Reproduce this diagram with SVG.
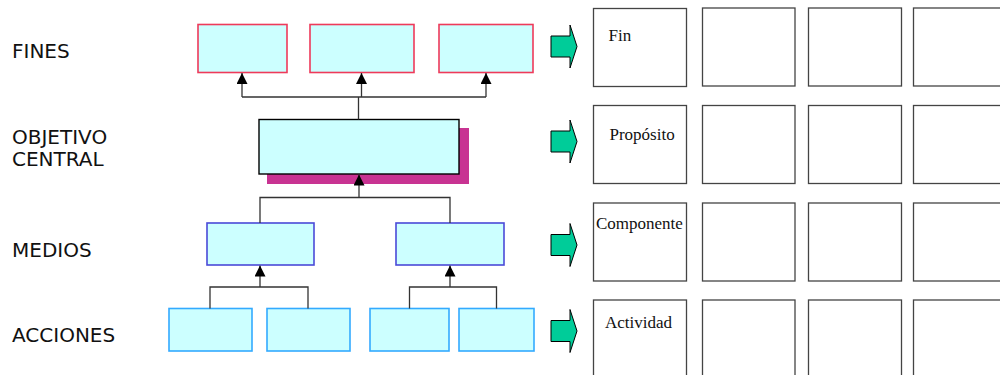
<svg xmlns="http://www.w3.org/2000/svg" width="1000" height="375" viewBox="0 0 1000 375">
  <style>
    .lvl { font-family: "DejaVu Sans", "Liberation Sans", sans-serif; font-size: 20px; fill: #111; }
    .cell-label { font-family: "Liberation Serif", "Times New Roman", serif; font-size: 17px; fill: #111; }
    .fin { fill: #ccffff; stroke: #ee3a5a; stroke-width: 1.6; }
    .obj { fill: #ccffff; stroke: #000; stroke-width: 1.4; }
    .shadow { fill: #c83392; }
    .medio { fill: #ccffff; stroke: #4a4ad8; stroke-width: 1.6; }
    .accion { fill: #ccffff; stroke: #33aaff; stroke-width: 1.6; }
    .conn { fill: none; stroke: #333; stroke-width: 1.3; }
    .cell { fill: #fff; stroke: #444; stroke-width: 1.3; }
    .go { fill: #00cc99; stroke: #000; stroke-width: 1; }
  </style>
  <defs>
    <marker id="tip" viewBox="0 0 10 10" refX="10" refY="5" markerWidth="11" markerHeight="11" markerUnits="userSpaceOnUse" orient="auto">
      <path d="M0,0 L10,5 L0,10 Z" fill="#000"/>
    </marker>
    <path id="goArrow" d="M0,-10.5 H19 V-21.5 L26,0 L19,21.5 V10.5 H0 Z"/>
  </defs>

  <!-- level names -->
  <g id="labels">
    <text class="lvl" x="12" y="58">FINES</text>
    <text class="lvl" x="12" y="143.5">OBJETIVO</text>
    <text class="lvl" x="12" y="166">CENTRAL</text>
    <text class="lvl" x="12" y="257">MEDIOS</text>
    <text class="lvl" x="12" y="342">ACCIONES</text>
  </g>

  <!-- ends -->
  <g id="fin-1"><rect class="fin" x="198" y="24.5" width="89" height="48"/></g>
  <g id="fin-2"><rect class="fin" x="310" y="24.5" width="104" height="48"/></g>
  <g id="fin-3"><rect class="fin" x="439" y="24.5" width="94" height="48"/></g>

  <!-- central objective with shadow -->
  <g id="objetivo">
    <rect class="shadow" x="267" y="128" width="202" height="56"/>
    <rect class="obj" x="259" y="119.5" width="200" height="54.5"/>
  </g>

  <!-- means -->
  <g id="medio-1"><rect class="medio" x="207" y="223" width="107" height="42"/></g>
  <g id="medio-2"><rect class="medio" x="396" y="223" width="108" height="42"/></g>

  <!-- actions -->
  <g id="accion-1"><rect class="accion" x="169" y="308.5" width="83" height="42.5"/></g>
  <g id="accion-2"><rect class="accion" x="267" y="308.5" width="83" height="42.5"/></g>
  <g id="accion-3"><rect class="accion" x="370" y="308.5" width="79" height="42.5"/></g>
  <g id="accion-4"><rect class="accion" x="459" y="308.5" width="75" height="42.5"/></g>

  <!-- tree connectors -->
  <g id="connectors">
    <path class="conn" d="M358.5,119.5 V97 M242,97 H486"/>
    <path class="conn" d="M242,97 V73" marker-end="url(#tip)"/>
    <path class="conn" d="M361.5,97 V73" marker-end="url(#tip)"/>
    <path class="conn" d="M486,97 V73" marker-end="url(#tip)"/>

    <path class="conn" d="M260,223 V197.5 H450 V223"/>
    <path class="conn" d="M359,197.5 V174.5" marker-end="url(#tip)"/>

    <path class="conn" d="M210,308.5 V287 H308 V308.5"/>
    <path class="conn" d="M260,287 V265.5" marker-end="url(#tip)"/>

    <path class="conn" d="M409.5,308.5 V287 H496.5 V308.5"/>
    <path class="conn" d="M450,287 V265.5" marker-end="url(#tip)"/>
  </g>

  <!-- arrows toward the matrix -->
  <g id="flechas">
    <use href="#goArrow" class="go" x="551" y="46.5"/>
    <use href="#goArrow" class="go" x="551" y="141.5"/>
    <use href="#goArrow" class="go" x="551" y="245"/>
    <use href="#goArrow" class="go" x="551" y="331"/>
  </g>

  <!-- logical framework matrix -->
  <g id="fila-fin">
    <rect class="cell" x="593.5" y="8.5" width="93" height="78"/>
    <rect class="cell" x="702.5" y="8" width="92.5" height="78"/>
    <rect class="cell" x="808.5" y="8" width="93" height="78"/>
    <rect class="cell" x="913.5" y="8" width="100" height="78"/>
    <text class="cell-label" x="608.5" y="40.5">Fin</text>
  </g>
  <g id="fila-proposito">
    <rect class="cell" x="593.5" y="105.5" width="93" height="78"/>
    <rect class="cell" x="702.5" y="105.5" width="92.5" height="78"/>
    <rect class="cell" x="808.5" y="105.5" width="93" height="78"/>
    <rect class="cell" x="913.5" y="105.5" width="100" height="78"/>
    <text class="cell-label" x="609.5" y="139.5">Propósito</text>
  </g>
  <g id="fila-componente">
    <rect class="cell" x="593.5" y="203" width="93" height="78"/>
    <rect class="cell" x="702.5" y="203" width="92.5" height="78"/>
    <rect class="cell" x="808.5" y="203" width="93" height="78"/>
    <rect class="cell" x="913.5" y="203" width="100" height="78"/>
    <text class="cell-label" x="596" y="228.5">Componente</text>
  </g>
  <g id="fila-actividad">
    <rect class="cell" x="593.5" y="300" width="93" height="90"/>
    <rect class="cell" x="702.5" y="300" width="92.5" height="90"/>
    <rect class="cell" x="808.5" y="300" width="93" height="90"/>
    <rect class="cell" x="913.5" y="300" width="100" height="90"/>
    <text class="cell-label" x="605" y="328">Actividad</text>
  </g>
</svg>
